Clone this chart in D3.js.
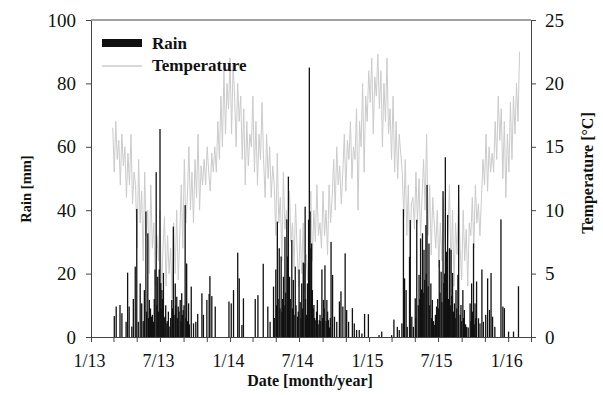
<!DOCTYPE html>
<html>
<head>
<meta charset="utf-8">
<script src="https://cdn.jsdelivr.net/npm/d3@7/dist/d3.min.js"></script>
<style>
  body { margin: 0; background: #fff; }
  text { font-family: "Liberation Serif", "Times New Roman", serif; fill: #111; }
</style>
</head>
<body>
<svg id="chart" width="603" height="395"></svg>
<script>
// daily temperature, read every 4 days starting 2013-02-27
const tempStart = "2013-02-27";
const tempStepDays = 4;
const temperature = [
  // 2013
  16.5, 13, 17, 14, 15.5, 12, 16, 13.5,
  15, 11, 14.5, 12, 16, 10.5, 13,
  12, 7, 14, 9, 11.5, 6, 13, 8,
  10, 5, 12, 7, 9, 4, 8,
  6, 10, 3.5, 7, 9.5, 4, 8, 5,
  7, 3, 9, 5, 10, 4.5, 8,
  12, 7, 14, 9, 11, 15, 10, 13,
  9, 14, 11, 16, 10, 13.5, 12,
  14, 12, 15, 13, 11.5, 14.5, 13, 15,
  13, 17, 14, 19, 15, 21, 16, 20,
  // 2014
  18, 22, 16, 21.5, 19, 15, 20, 17,
  19, 14, 18, 12, 17, 13.5, 16,
  15, 19, 13, 17, 12, 16, 14, 18.5,
  14, 11, 16, 12.5, 15, 11, 13.5,
  12, 8, 14.5, 9, 11, 6, 13, 8.5,
  10, 6, 11.5, 7.5, 9, 5.5, 10.5,
  7, 4, 8.5, 5, 9, 3.5, 6.5, 4.5,
  8, 11.5, 6, 10, 7.5, 12, 8,
  9, 7, 11.5, 8, 10, 6.5, 12, 9,
  11, 14, 10, 15, 12, 13.5, 10.5,
  13, 16, 11.5, 15.5, 14, 17, 12.5, 15,
  14, 18, 10, 17, 15, 20, 13, 19,
  // 2015
  17, 21, 18.5, 22, 16, 20.5, 19, 22.3,
  18, 21, 15, 20, 17, 22, 16,
  18, 14, 19, 13, 17, 12.5, 16, 14.5,
  13, 9.5, 14, 8, 12, 6, 10.5,
  11, 8.5, 13, 9, 12.5, 8, 11, 14,
  10, 16, 8, 12, 6.5, 11, 9,
  7, 10, 5.5, 9, 6, 11, 7.5, 5.5,
  8, 12, 5, 10, 4, 9, 6.5, 11,
  7, 4.5, 10, 6, 8.5, 4, 9,
  8, 11, 7, 12, 9, 10.5, 8,
  11, 14, 12, 16, 11.5, 15, 13, 14.5,
  13, 17, 14, 19, 15.5, 18, 12.5, 17,
  // 2016
  11, 16, 13, 18.5, 14, 19, 16, 20,
  17, 22.5
];

// rain events: day number counted from 2013-01-01, and amount in mm
const rainOrigin = "2013-01-01";
const rainDays = [
  // 2013
  61, 66, 76, 81, 92, 96, 100, 107, 111, 116, 120, 124, 129, 133, 137, 140, 144, 146, 149, 151,
  153, 156, 159, 161, 164, 166, 168, 171, 173, 175, 177, 179, 181, 183, 184, 186, 187, 190, 192, 194,
  196, 199, 200, 203, 207, 209, 212, 214, 216, 218, 221, 222, 225, 227, 229, 231, 234, 236, 238, 240,
  242, 244, 247, 249, 251, 253, 256, 258, 263, 269, 275, 280, 291, 295, 304, 310, 312, 317, 326, 362,
  368, 374, 385, 389, 396, 400,
  // 2014
  431, 438, 452, 464, 470, 479, 481, 485, 487, 489, 491, 494, 496, 499, 501, 503, 505, 507, 509, 511,
  514, 516, 518, 521, 523, 527, 529, 531, 533, 536, 538, 542, 544, 546, 549, 551, 553, 555, 557, 559,
  562, 563, 566, 568, 571, 572, 573, 575, 577, 579, 581, 583, 585, 587, 590, 592, 594, 596, 599, 601,
  603, 606, 608, 610, 612, 614, 617, 619, 621, 623, 626, 628, 630, 634, 639, 645, 652, 656, 661, 667,
  671, 676, 686, 691, 697, 704, 711, 718, 728,
  // 2015
  756, 763, 789, 795, 804, 809, 816, 820, 823, 827, 830, 836, 838, 842, 846, 851, 852, 855, 859, 861,
  863, 865, 867, 870, 872, 874, 876, 879, 880, 882, 885, 887, 889, 892, 894, 896, 899, 901, 904, 907,
  910, 912, 914, 916, 919, 921, 924, 926, 928, 930, 933, 935, 936, 938, 941, 943, 945, 947, 949, 951,
  954, 956, 958, 960, 963, 965, 969, 971, 973, 976, 978, 980, 983, 986, 990, 995, 997, 999, 1001, 1004,
  1006, 1008, 1010, 1012, 1017, 1021, 1026, 1030, 1036, 1041, 1046, 1050, 1054, 1060, 1076, 1081, 1085, 1096, 1109, 1122
];
const rainMm = [
  // 2013
  6.6, 9.6, 10.1, 7.5, 4.8, 20.3, 9.6, 3.3, 12, 22.2, 40.4, 4.8, 16.9, 10.6, 5, 14.8, 39.6, 8, 32.7, 6,
  11.7, 9, 6.4, 7, 4.8, 12, 21.3, 52, 10, 19, 8, 21.3, 65.6, 17, 9, 14.8, 12, 20.2, 6, 6.4,
  10, 4.3, 5, 8, 3.3, 6, 11.7, 9, 34.8, 7, 16.9, 10, 12.7, 6, 9.6, 8, 11.7, 5, 13.8, 7,
  8.5, 10, 41.6, 6, 23.2, 5, 10.6, 4, 15.9, 4.3, 4.8, 7.3, 13.8, 7, 11.7, 13.6, 19.2, 12.9, 9.6, 11.2,
  10.6, 14.8, 26.6, 18.5, 3.8, 12.2,
  // 2014
  12, 13.2, 23.1, 9.6, 4.8, 15.9, 6, 21.3, 10, 36.4, 12, 28, 9, 25.4, 8, 12, 19, 10, 31.6, 14,
  37.1, 25.4, 50.6, 19, 12, 30.6, 9, 18, 7, 22.2, 10, 6.4, 8, 21.3, 11, 6, 16.9, 9, 23.5, 23.2,
  41.1, 12, 7, 16.9, 37, 15, 85, 39.6, 28, 29.5, 14.8, 9, 10.1, 6, 5.3, 8, 11.7, 4, 5.3, 7,
  5, 21.3, 6, 11.7, 9, 22.6, 5, 11.7, 8, 5.3, 3, 6, 30, 19.6, 6.4, 4.8, 11.2, 14.4, 9.6, 26.4,
  8.5, 4.8, 9.1, 4.3, 2.2, 2.2, 1.1, 7.3, 7.2,
  // 2015
  0.6, 1.7, 0.6, 5.5, 3.2, 2.2, 4.3, 40.3, 18.5, 14.8, 3.2, 25.3, 36.9, 6.4, 3.2, 12.2, 6, 37, 10, 19.6,
  12, 31.1, 15, 32.7, 14, 27.5, 18, 35.3, 20, 48, 16, 29.5, 10, 16.9, 6, 11.7, 5, 3.8, 7, 9.6,
  12, 9, 24.3, 14, 20.6, 11, 46, 17, 20, 56.7, 26.9, 18, 38.5, 12, 28, 10, 27.5, 13, 20.2, 8,
  10.6, 6, 14.8, 9, 19.6, 48, 7, 10.1, 5, 14.8, 6, 8.5, 4, 3.2, 3, 10.6, 5, 16.9, 8, 29.5,
  4, 10.6, 6, 17.5, 5.9, 4.3, 21.3, 4.8, 7, 18.5, 8.5, 20.2, 6.4, 3.2, 37.1, 9.6, 9.1, 1.7, 1.7, 16
];

const rainTicks = [0, 20, 40, 60, 80, 100];
const tempTicks = [0, 5, 10, 15, 20, 25];

const serif = "'Liberation Serif', 'Times New Roman', serif";
const margin = { top: 20, right: 72, bottom: 58, left: 91 };
const width = 603 - margin.left - margin.right;
const height = 395 - margin.top - margin.bottom;

const parse = d3.timeParse("%Y-%m-%d");
const t0 = parse(tempStart);
const r0 = parse(rainOrigin);

const svg = d3.select("#chart");
const g = svg.append("g").attr("transform", "translate(" + margin.left + "," + margin.top + ")");

const x = d3.scaleTime()
  .domain([parse("2013-01-01"), parse("2016-03-01")])
  .range([0, width]);
const yRain = d3.scaleLinear().domain([0, 100]).range([height, 0]);
const yTemp = d3.scaleLinear().domain([0, 25]).range([height, 0]);

// temperature line (drawn first, rain on top)
const line = d3.line()
  .x((d, i) => x(d3.timeDay.offset(t0, i * tempStepDays)))
  .y(d => yTemp(d));

g.append("path")
  .datum(temperature)
  .attr("fill", "none")
  .attr("stroke", "#cbcbcb")
  .attr("stroke-width", 1)
  .attr("d", line);

// rain bars
g.selectAll(".bar")
  .data(rainDays)
  .join("rect")
  .attr("class", "bar")
  .attr("x", d => x(d3.timeDay.offset(r0, d)) - 0.6)
  .attr("width", 1.3)
  .attr("y", (d, i) => yRain(rainMm[i]))
  .attr("height", (d, i) => height - yRain(rainMm[i]))
  .attr("fill", "#111");

// frame top
g.append("line")
  .attr("x1", 0).attr("x2", width)
  .attr("y1", 0).attr("y2", 0)
  .attr("stroke", "#444");

// axes
const fmt = d => (d.getMonth() + 1) + "/" + d3.timeFormat("%y")(d);
const xAxis = d3.axisBottom(x)
  .tickValues(d3.timeMonth.every(2).range(parse("2013-01-01"), parse("2016-03-02")))
  .tickSize(5)
  .tickSizeOuter(0)
  .tickFormat(d => d.getMonth() % 6 === 0 ? fmt(d) : "");

const gx = g.append("g").attr("transform", "translate(0," + height + ")").call(xAxis);
gx.selectAll("text").attr("y", 30).attr("dy", 0).attr("dx", -2);

const gl = g.append("g").call(d3.axisLeft(yRain).tickValues(rainTicks).tickSize(5).tickSizeOuter(0).tickPadding(10));
const gr = g.append("g").attr("transform", "translate(" + width + ",0)")
  .call(d3.axisRight(yTemp).tickValues(tempTicks).tickSize(5).tickSizeOuter(0).tickPadding(9));

[gx, gl, gr].forEach(a => a.attr("font-family", serif).attr("font-size", 19));
gx.attr("font-size", 18);

svg.selectAll(".domain, .tick line").attr("stroke", "#444");
svg.selectAll(".tick text").attr("fill", "#111");

// axis titles
svg.append("text")
  .attr("transform", "translate(31,189) rotate(-90)")
  .attr("text-anchor", "middle")
  .style("font-size", "14.5px").style("font-weight", "bold")
  .text("Rain [mm]");

svg.append("text")
  .attr("transform", "translate(593,173) rotate(-90)")
  .attr("text-anchor", "middle")
  .style("font-size", "16px").style("font-weight", "bold")
  .text("Temperature [°C]");

svg.append("text")
  .attr("x", 310).attr("y", 386)
  .attr("text-anchor", "middle")
  .style("font-size", "16px").style("font-weight", "bold")
  .text("Date [month/year]");

// legend
const legend = svg.append("g");
legend.append("rect").attr("x", 102).attr("y", 39).attr("width", 40).attr("height", 8).attr("fill", "#111");
legend.append("text").attr("x", 152).attr("y", 49).style("font-size", "17px").style("font-weight", "bold").text("Rain");
legend.append("line").attr("x1", 102).attr("x2", 142).attr("y1", 66).attr("y2", 66).attr("stroke", "#cbcbcb").attr("stroke-width", 1.5);
legend.append("text").attr("x", 152).attr("y", 71).style("font-size", "17px").style("font-weight", "bold").text("Temperature");
</script>
</body>
</html>
